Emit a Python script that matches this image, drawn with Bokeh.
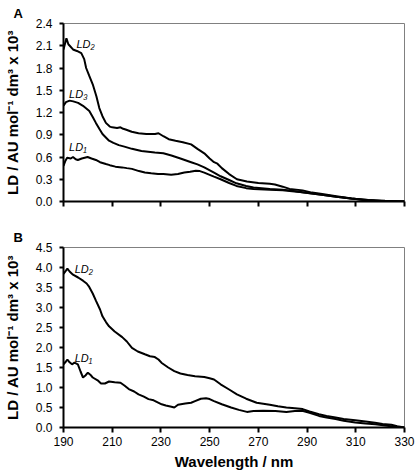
from bokeh.plotting import figure
from bokeh.layouts import column
from bokeh.models import Range1d, FixedTicker, NumeralTickFormatter
from bokeh.core.properties import value
from bokeh.embed import file_html
from bokeh.resources import INLINE

# ---------------- data ----------------
x_ticks = [190, 210, 230, 250, 270, 290, 310, 330]
a_y_ticks = [0.0, 0.3, 0.6, 0.9, 1.2, 1.5, 1.8, 2.1, 2.4]
b_y_ticks = [0.0, 0.5, 1.0, 1.5, 2.0, 2.5, 3.0, 3.5, 4.0, 4.5]

# Panel A
a_ld2_wl = [190, 191.2, 192, 193.9, 195.5, 197.3, 198.5, 199.3, 200.5, 202, 203.5, 204.7, 206,
            207.4, 209, 210, 212, 213.4, 214.5, 215.5, 218, 220.8, 224, 227.6, 229, 231, 233.2,
            236, 239, 242.4, 245, 247.8, 250, 251.8, 253.2, 255, 258, 261.2, 265.3, 270, 274.7,
            276.8, 280, 282.8, 288.2, 292, 296.2, 302, 308.4, 313, 317.7, 325, 330]
a_ld2 = [2.05, 2.20, 2.12, 2.05, 2.03, 2.00, 1.92, 1.80, 1.70, 1.58, 1.42, 1.26, 1.15,
         1.06, 1.01, 1.00, 0.99, 1.00, 0.98, 0.97, 0.94, 0.92, 0.91, 0.91, 0.92, 0.88, 0.84,
         0.82, 0.80, 0.77, 0.71, 0.65, 0.58, 0.53, 0.51, 0.45, 0.37, 0.30, 0.27, 0.25, 0.24,
         0.23, 0.20, 0.17, 0.15, 0.12, 0.10, 0.07, 0.04, 0.02, 0.01, 0.005, 0.0]

a_ld3_wl = [190, 191, 192.5, 194, 196, 198, 200.6, 202, 203.3, 204.7, 206, 208.7, 210.5, 212.7,
            215, 218.1, 222, 227.5, 231, 234.3, 238, 242.4, 245, 247.8, 251.8, 254.5, 258, 261,
            265, 268, 274.7, 280, 282.8, 288, 296, 302, 308, 315, 322, 330]
a_ld3 = [1.29, 1.34, 1.36, 1.35, 1.33, 1.29, 1.22, 1.14, 1.06, 0.98, 0.91, 0.82, 0.79, 0.76,
         0.74, 0.71, 0.68, 0.66, 0.65, 0.62, 0.58, 0.53, 0.50, 0.46, 0.39, 0.34, 0.29, 0.245,
         0.21, 0.19, 0.17, 0.16, 0.15, 0.125, 0.09, 0.065, 0.04, 0.02, 0.01, 0.0]

a_ld1_wl = [190, 190.8, 191.5, 193, 193.9, 195, 195.9, 197.5, 199.9, 201.5, 203.3, 205, 207.4,
            209, 211.3, 214, 216, 218.1, 221, 223.4, 226, 228.8, 231, 234.2, 237, 239.6, 242,
            244.3, 246, 247.8, 250, 251.8, 254.5, 258, 261, 265, 268, 274.7, 280, 282.8, 288,
            296, 302, 308, 315, 322, 330]
a_ld1 = [0.48, 0.55, 0.59, 0.58, 0.60, 0.57, 0.56, 0.58, 0.60, 0.58, 0.56, 0.53, 0.505,
         0.49, 0.47, 0.46, 0.45, 0.44, 0.41, 0.39, 0.38, 0.37, 0.37, 0.36, 0.37, 0.39, 0.40,
         0.415, 0.41, 0.39, 0.36, 0.335, 0.30, 0.25, 0.21, 0.18, 0.17, 0.16, 0.15, 0.14, 0.125,
         0.09, 0.065, 0.04, 0.02, 0.005, 0.0]

# Panel B
b_ld2_wl = [190, 191, 191.6, 192.5, 193.9, 196, 198, 199.5, 200.4, 202, 203.4, 205, 206, 207.5,
            208.7, 211, 214.1, 216, 218.1, 220.5, 223.4, 225.5, 227.5, 229, 230.2, 233, 235.5,
            238, 240.9, 244, 247.8, 250, 251.8, 254.5, 258, 261.2, 265, 269.3, 274.7, 278,
            281.5, 285, 288.2, 291, 294.9, 298, 301.7, 305, 309.8, 314, 317.9, 321, 324.6, 327,
            330]
b_ld2 = [3.84, 3.92, 3.97, 3.90, 3.82, 3.75, 3.67, 3.60, 3.53, 3.35, 3.16, 2.95, 2.78, 2.63,
         2.53, 2.40, 2.26, 2.15, 1.99, 1.90, 1.83, 1.78, 1.76, 1.70, 1.62, 1.50, 1.41,
         1.35, 1.31, 1.28, 1.26, 1.23, 1.20, 1.08, 0.95, 0.83, 0.72, 0.62, 0.57, 0.53,
         0.50, 0.48, 0.46, 0.40, 0.33, 0.29, 0.25, 0.21, 0.18, 0.15, 0.12, 0.09, 0.07, 0.03,
         0.0]

b_ld1_wl = [190, 191, 191.6, 192.5, 193.5, 194.5, 195.9, 197, 198, 199, 200, 201, 202, 204,
            205.4, 207, 208.7, 211, 213.4, 215, 216.8, 219, 220.8, 223, 224.9, 227, 230.3,
            232, 234.3, 235.5, 237, 240, 242.4, 244, 246.4, 248.5, 250, 251.8, 255, 258.8,
            262, 265.3, 268, 272, 277, 281.5, 285, 288, 291, 294.9, 298, 301.7, 305, 309.8,
            314, 318, 322, 326, 330]
b_ld1 = [1.58, 1.65, 1.70, 1.63, 1.58, 1.62, 1.58, 1.40, 1.25, 1.30, 1.37, 1.32, 1.25, 1.18,
         1.10, 1.10, 1.15, 1.13, 1.12, 1.05, 0.96, 0.90, 0.83, 0.77, 0.71, 0.68, 0.58,
         0.55, 0.52, 0.50, 0.57, 0.60, 0.62, 0.66, 0.72, 0.73, 0.71, 0.66, 0.58, 0.50,
         0.44, 0.39, 0.41, 0.42, 0.41, 0.39, 0.41, 0.42, 0.37, 0.29, 0.25, 0.21, 0.17, 0.125,
         0.10, 0.08, 0.05, 0.02, 0.0]

x_title = "Wavelength / nm"
y_title = "LD / AU mol\u207b\u00b9 dm\u00b3 x 10\u00b3"

FONT = "Liberation Sans"


def make_fig(height, top, bottom, ymax, yticks, show_xlabels, panel):
    p = figure(width=415, height=height, output_backend="svg", toolbar_location=None,
               x_range=Range1d(190, 330), y_range=Range1d(0, ymax),
               min_border_left=57, min_border_right=11,
               min_border_top=top, min_border_bottom=bottom)
    p.grid.visible = False
    p.outline_line_color = "#808080"
    p.outline_line_width = 1
    p.background_fill_color = "white"
    p.border_fill_color = "white"

    p.title.text = panel
    p.title.align = "left"
    p.title.offset = -50
    p.title.standoff = 6
    p.title.text_font = FONT
    p.title.text_font_style = "bold"
    p.title.text_font_size = "13px"
    p.title.text_color = "black"

    for ax in (p.xaxis[0], p.yaxis[0]):
        ax.axis_line_color = "black"
        ax.axis_line_width = 2
        ax.major_tick_line_color = "black"
        ax.major_tick_line_width = 2
        ax.minor_tick_line_color = None
        ax.major_tick_in = 0
        ax.major_label_text_font = FONT
        ax.major_label_text_font_size = "12px"
        ax.major_label_text_color = "black"
        ax.axis_label_text_font = FONT
        ax.axis_label_text_font_style = "bold"
        ax.axis_label_text_font_size = "15px"
        ax.axis_label_text_color = "black"

    p.xaxis.ticker = FixedTicker(ticks=x_ticks)
    p.xaxis.major_tick_out = 5
    p.xaxis.major_label_standoff = 4
    if show_xlabels:
        p.xaxis.axis_label = x_title
        p.xaxis.axis_label_standoff = 4
    else:
        p.xaxis.major_label_overrides = {t: "" for t in x_ticks}

    p.yaxis.ticker = FixedTicker(ticks=yticks)
    p.yaxis.formatter = NumeralTickFormatter(format="0.0")
    p.yaxis.major_tick_out = 4
    p.yaxis.major_label_standoff = 7
    p.yaxis.axis_label = y_title
    p.yaxis.axis_label_standoff = 12
    return p


def curve_label(p, x, y, txt):
    p.text(x=[x], y=[y], text=[txt], text_font=value(FONT), text_font_style="italic",
           text_font_size="11px", text_align="left", text_baseline="middle",
           text_color="black")


# Panel A
pA = make_fig(224, 22, 23, 2.4, a_y_ticks, False, "A")
pA.line(a_ld2_wl, a_ld2, line_color="black", line_width=2)
pA.line(a_ld3_wl, a_ld3, line_color="black", line_width=2)
pA.line(a_ld1_wl, a_ld1, line_color="black", line_width=2)
curve_label(pA, 195.3, 2.12, "LD\u2082")
curve_label(pA, 192.3, 1.45, "LD\u2083")
curve_label(pA, 192.3, 0.73, "LD\u2081")

# Panel B
pB = make_fig(248, 22, 45, 4.5, b_y_ticks, True, "B")
pB.line(b_ld2_wl, b_ld2, line_color="black", line_width=2)
pB.line(b_ld1_wl, b_ld1, line_color="black", line_width=2)
curve_label(pB, 194.6, 3.97, "LD\u2082")
curve_label(pB, 194.6, 1.74, "LD\u2081")

layout = column(pA, pB, spacing=0)
open("out.html", "w").write(file_html(layout, INLINE))
